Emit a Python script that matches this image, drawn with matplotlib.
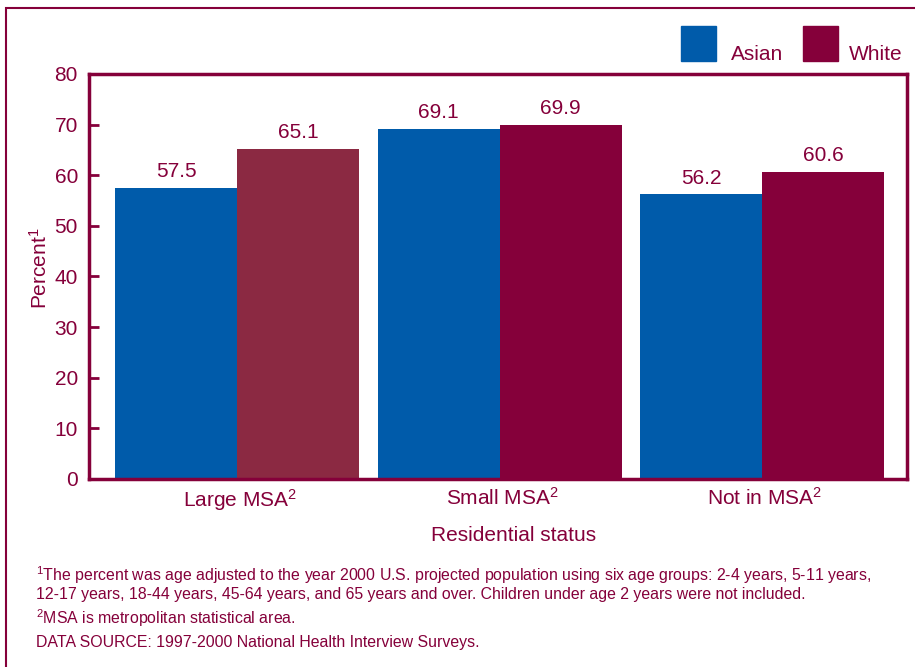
import numpy as np
import matplotlib
matplotlib.use("Agg")
from matplotlib import pyplot as plt
from matplotlib.patches import Rectangle

# Dati
categorie = ["Large MSA$^2$", "Small MSA$^2$", "Not in MSA$^2$"]
serie = ["Asian", "White"]
asian = [57.5, 69.1, 56.2]
white = [65.1, 69.9, 60.6]
yticks = [0, 10, 20, 30, 40, 50, 60, 70, 80]

note = [
    "$^1$The percent was age adjusted to the year 2000 U.S. projected population using six age groups: 2-4 years, 5-11 years,",
    "12-17 years, 18-44 years, 45-64 years, and 65 years and over. Children under age 2 years were not included.",
    "$^2$MSA is metropolitan statistical area.",
    "DATA SOURCE: 1997-2000 National Health Interview Surveys.",
]

# stile
MARRONE = "#85003A"
BLU = "#005BAA"
colori_white = ["#8B2942", MARRONE, MARRONE]
FS = 15

plt.rcParams["font.family"] = ["Liberation Sans", "DejaVu Sans"]
plt.rcParams["mathtext.fontset"] = "custom"
plt.rcParams["mathtext.rm"] = "Liberation Sans"
plt.rcParams["mathtext.default"] = "rm"
plt.rcParams["text.color"] = MARRONE

W, H = 915, 667
fig = plt.figure(figsize=(W / 100, H / 100), dpi=100)
ax = fig.add_axes([89 / W, 1 - 479 / H, (907 - 89) / W, (479 - 74) / H])

x = np.arange(len(categorie))
larg = 0.465
b1 = ax.bar(x - larg / 2, asian, larg, color=BLU, label=serie[0])
b2 = ax.bar(x + larg / 2, white, larg, color=colori_white, label=serie[1])
ax.bar_label(b1, fmt="%.1f", padding=5, fontsize=FS, color=MARRONE)
ax.bar_label(b2, fmt="%.1f", padding=5, fontsize=FS, color=MARRONE)

ax.set_xlim(-0.564, 2.552)
ax.set_ylim(0, 80)
ax.set_yticks(yticks)
ax.tick_params(axis="y", direction="in", length=7, width=2, color=MARRONE,
               labelcolor=MARRONE, labelsize=FS, pad=8)
ax.set_xticks(x + 0.01)
ax.set_xticklabels(categorie)
ax.tick_params(axis="x", length=0, labelcolor=MARRONE, labelsize=FS, pad=6)
for s in ax.spines.values():
    s.set_color(MARRONE)
    s.set_linewidth(2.5)

ax.set_xlabel("Residential status", fontsize=FS, color=MARRONE, labelpad=9,
              x=(514 - 89) / (907 - 89))
ax.set_ylabel("Percent$^1$", fontsize=FS, color=MARRONE, labelpad=3,
              y=(479 - 268) / (479 - 74))

# legenda fatta a mano (quadrati + testo)
for xq, xt, nome, col in [(681, 731, serie[0], BLU), (803, 849, serie[1], MARRONE)]:
    fig.add_artist(Rectangle((xq / W, 1 - 61 / H), 35 / W, 35 / H,
                             transform=fig.transFigure, color=col))
    fig.text(xt / W, 1 - 60 / H, nome, fontsize=FS, color=MARRONE, va="baseline")

# note in basso
for testo, yb in zip(note, [581, 599, 624, 647]):
    fig.text(36 / W, 1 - yb / H, testo, fontsize=11.4, color=MARRONE, va="baseline")

# cornice esterna
fig.add_artist(Rectangle((6 / W, -0.1), 1.2, 1.1 - 8 / H, transform=fig.transFigure,
                         fill=False, edgecolor=MARRONE, linewidth=1.5))

plt.savefig("out.png", dpi=100)
